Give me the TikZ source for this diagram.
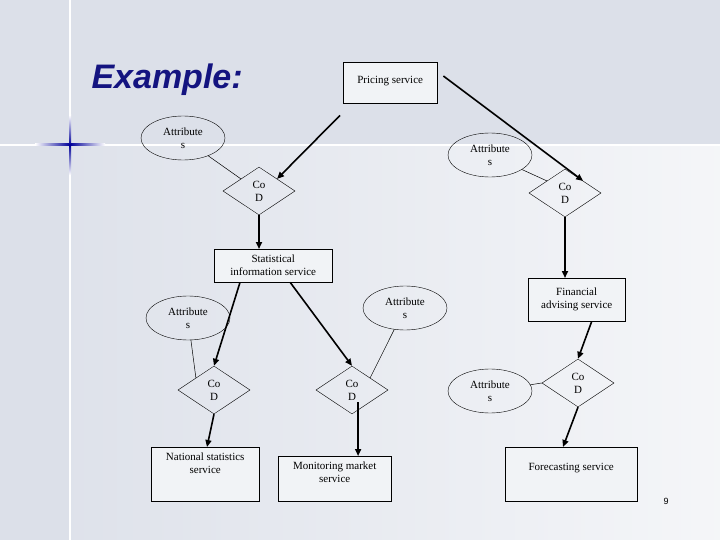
\documentclass[tikz,border=0pt]{standalone}
\usepackage{fontspec}
\setmainfont{Liberation Serif}
\newfontfamily\hd{Liberation Sans}
\usetikzlibrary{shapes.geometric,arrows.meta}
\definecolor{bg}{HTML}{DCE0E9}
\definecolor{ttl}{HTML}{141480}
\begin{document}
\begin{tikzpicture}[x=1pt,y=-1pt,
 box/.style={draw,fill=bg!40,font=\fontsize{11}{13}\selectfont,align=center,inner sep=0pt},
 att/.style={draw,ellipse,minimum width=84pt,minimum height=44pt,inner sep=0pt,font=\fontsize{11}{13}\selectfont,align=center},
 cod/.style={draw,diamond,minimum width=72pt,minimum height=48pt,inner sep=0pt,aspect=1.5,font=\fontsize{11}{13}\selectfont,align=center},
 arr/.style={line width=1.6pt,-{Triangle[length=7pt,width=6pt]}},
 ln/.style={line width=0.5pt}]
\useasboundingbox (0,0) rectangle (720,540);
\shade[left color=bg, right color=bg!30] (0,0) rectangle (720,540);
\fill[bg] (0,0) rectangle (720,145);
\fill[bg] (0,0) rectangle (70,540);
\draw[white,line width=1.2pt] (70,0) -- (70,540);
\draw[white,line width=1.2pt] (0,145) -- (720,145);
\shade[left color=white,right color=white,middle color=blue!60!black] (35,144) rectangle (105,146);
\shade[top color=white,bottom color=white,middle color=blue!60!black] (69,115) rectangle (71,175);
\fill[blue!60!black] (70,145) circle (1.5pt);
\node[text=ttl,font=\hd\bfseries\itshape\fontsize{34}{38}\selectfont,anchor=west] (title) at (88,80) {Example:};
\node[box,minimum width=94pt,minimum height=41pt,anchor=north west,text depth=5pt] (pr) at (343,62) {Pricing service};
\node[att] (a1) at (183,138) {Attribute\\s};
\node[att] (a2) at (490,155) {Attribute\\s};
\node[cod] (c1) at (259,191) {Co\\D};
\node[cod] (c2) at (565,193) {Co\\D};
\node[box,minimum width=118pt,minimum height=33pt,anchor=north west] (st) at (214,249) {Statistical\\information service};
\node[box,minimum width=97pt,minimum height=43pt,anchor=north west] (fi) at (528,278) {Financial\\advising service};
\node[att] (a3) at (188,318) {Attribute\\s};
\node[att] (a4) at (405,308) {Attribute\\s};
\node[att] (a5) at (490,391) {Attribute\\s};
\node[cod] (c3) at (214,390) {Co\\D};
\node[cod] (c4) at (352,390) {Co\\D};
\node[cod] (c5) at (578,383) {Co\\D};
\node[box,minimum width=108pt,minimum height=54pt,anchor=north west,text depth=22pt] (na) at (151,447) {National statistics\\service};
\node[box,minimum width=113pt,minimum height=45pt,anchor=north west,text depth=14pt] (mo) at (278,456) {Monitoring market\\service};
\node[box,minimum width=132pt,minimum height=54pt,anchor=north west,text depth=14pt] (fo) at (505,447) {Forecasting service};
\node[font=\hd\fontsize{9}{10}\selectfont] (pg) at (666,501) {9};
\draw[ln] (a1) -- (c1.north west);
\draw[ln] (a2) -- (c2.north west);
\draw[ln] (a3) -- (c3.north west);
\draw[ln] (a4) -- (c4.north east);
\draw[ln] (a5) -- (c5.west);
\draw[arr] (pr.south west) ++(-3,12) coordinate (p1) (p1) -- (c1.north east);
\draw[arr] (pr.north east) ++(6,14) coordinate (p2) (p2) -- (c2.north east);
\draw[arr] (c1.south) -- (st.north -| c1.south);
\draw[arr] (c2.south) -- (fi.north -| c2.south);
\draw[arr] (st.south west) ++(26,0) coordinate (s1) (s1) -- (c3.north);
\draw[arr] (st.south) ++(17,0) coordinate (s2) (s2) -- (c4.north);
\draw[arr] (c3.south) -- ([xshift=-7pt]c3.south |- na.north);
\draw[arr] (c4.south east) ++(-12,0) coordinate (s3) (s3) -- (s3 |- mo.north);
\draw[arr] (fi.south) ++(15,0) coordinate (s4) (s4) -- (c5.north);
\draw[arr] (c5.south) -- ([xshift=-15pt]c5.south |- fo.north);
\end{tikzpicture}
\end{document}
